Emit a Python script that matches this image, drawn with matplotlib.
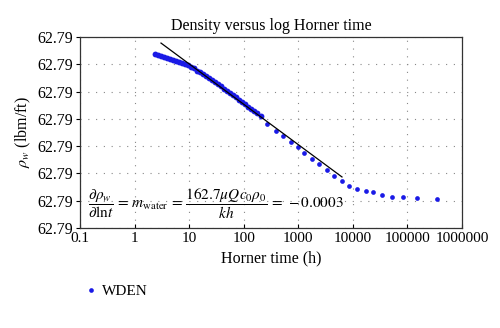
import matplotlib
matplotlib.use("Agg")
import matplotlib.pyplot as plt
from matplotlib.ticker import FixedLocator, FormatStrFormatter

plt.rcParams['font.family'] = ['Liberation Serif', 'DejaVu Serif']
plt.rcParams['mathtext.fontset'] = 'stix'

# Horner time (h) and water density (lbm/ft) readings
horner_t = [2.37, 2.69, 3.05, 3.46, 3.93, 4.46, 5.06, 5.74, 6.52, 7.40,
            8.40, 9.53, 10.8, 12.3, 13.9, 15.8, 17.9, 20.4, 23.1, 26.3,
            29.8, 33.8, 38.4, 43.6, 49.4, 56.1, 63.7, 72.3, 82.0, 93.1,
            106, 120, 136, 155, 175, 208,
            267, 391, 525, 736, 988, 1273, 1783, 2397, 3359, 4516,
            6324, 8493, 11910, 17420, 23390, 34200, 52150, 82990, 150000, 348400]
wden = [62.79338, 62.79334, 62.79330, 62.79327, 62.79323, 62.79319, 62.79316,
        62.79312, 62.79308, 62.79305, 62.79301, 62.79297, 62.79292, 62.79285,
        62.79277, 62.79272, 62.79264, 62.79257, 62.79250, 62.79242, 62.79235,
        62.79228, 62.79220, 62.79211, 62.79204, 62.79195, 62.79187, 62.79180,
        62.79171, 62.79162, 62.79154, 62.79145, 62.79136, 62.79129, 62.79120,
        62.79109,
        62.79081, 62.79055, 62.79037, 62.79015, 62.78997, 62.78975, 62.78953,
        62.78935, 62.78913, 62.78891, 62.78872, 62.78854, 62.78843, 62.78836,
        62.78832, 62.78821, 62.78814, 62.78814, 62.78810, 62.78806]

# semilog straight-line fit
fit_t = [3.05, 6320]
fit_rho = [62.79378, 62.78887]

yticks = [62.787, 62.788, 62.789, 62.790, 62.791, 62.792, 62.793, 62.794]
xticks = [0.1, 1, 10, 100, 1000, 10000, 100000, 1000000]
xlabels = ['0.1', '1', '10', '100', '1000', '10000', '100000', '1000000']

fig = plt.figure(figsize=(5, 3.28), dpi=100)
ax = fig.add_axes([0.16, 0.305, 0.764, 0.582])

ax.plot(horner_t[:36], wden[:36], 'o', color='#1a1ae6', markersize=4.2,
        markeredgewidth=0, label='WDEN')
ax.plot(horner_t[36:], wden[36:], 'o', color='#1a1ae6', markersize=3.4,
        markeredgewidth=0)
ax.plot(fit_t, fit_rho, color='black', linewidth=0.9)

ax.set_xscale('log')
ax.set_xlim(0.1, 1000000)
ax.set_ylim(62.787, 62.794)
ax.xaxis.set_major_locator(FixedLocator(xticks))
ax.set_xticklabels(xlabels)
ax.xaxis.set_minor_locator(FixedLocator([]))
ax.yaxis.set_major_locator(FixedLocator(yticks))
ax.yaxis.set_major_formatter(FormatStrFormatter('%.2f'))

ax.grid(True, color='#888888', linestyle=(0, (1, 6)), linewidth=0.8)
ax.tick_params(axis='y', direction='out', length=3, labelsize=11.5, pad=2)
ax.tick_params(axis='x', direction='in', length=3, labelsize=11, pad=3)
for s in ax.spines.values():
    s.set_linewidth(0.9)
    s.set_color('#333333')

ax.set_title('Density versus log Horner time', fontsize=11.5, pad=5)
ax.set_xlabel('Horner time (h)', fontsize=11.5, labelpad=4)
ax.set_ylabel(r'$\rho_w$ (lbm/ft)', fontsize=11.5, labelpad=3)

ax.text(0.02, 0.13,
        r'$\dfrac{\partial \rho_w}{\partial \mathrm{ln} t} \,=\, m_{\mathrm{water}} \,=\, '
        r'\dfrac{162.7 \mu Q c_0 \rho_0}{kh} \,=\, -0.0003$',
        transform=ax.transAxes, fontsize=11, va='center', ha='left')

fig.legend(loc='lower left', bbox_to_anchor=(0.14, 0.05), frameon=False,
           fontsize=11, handletextpad=0.2, markerscale=0.8, handlelength=1)

fig.savefig('out.png', dpi=100)
